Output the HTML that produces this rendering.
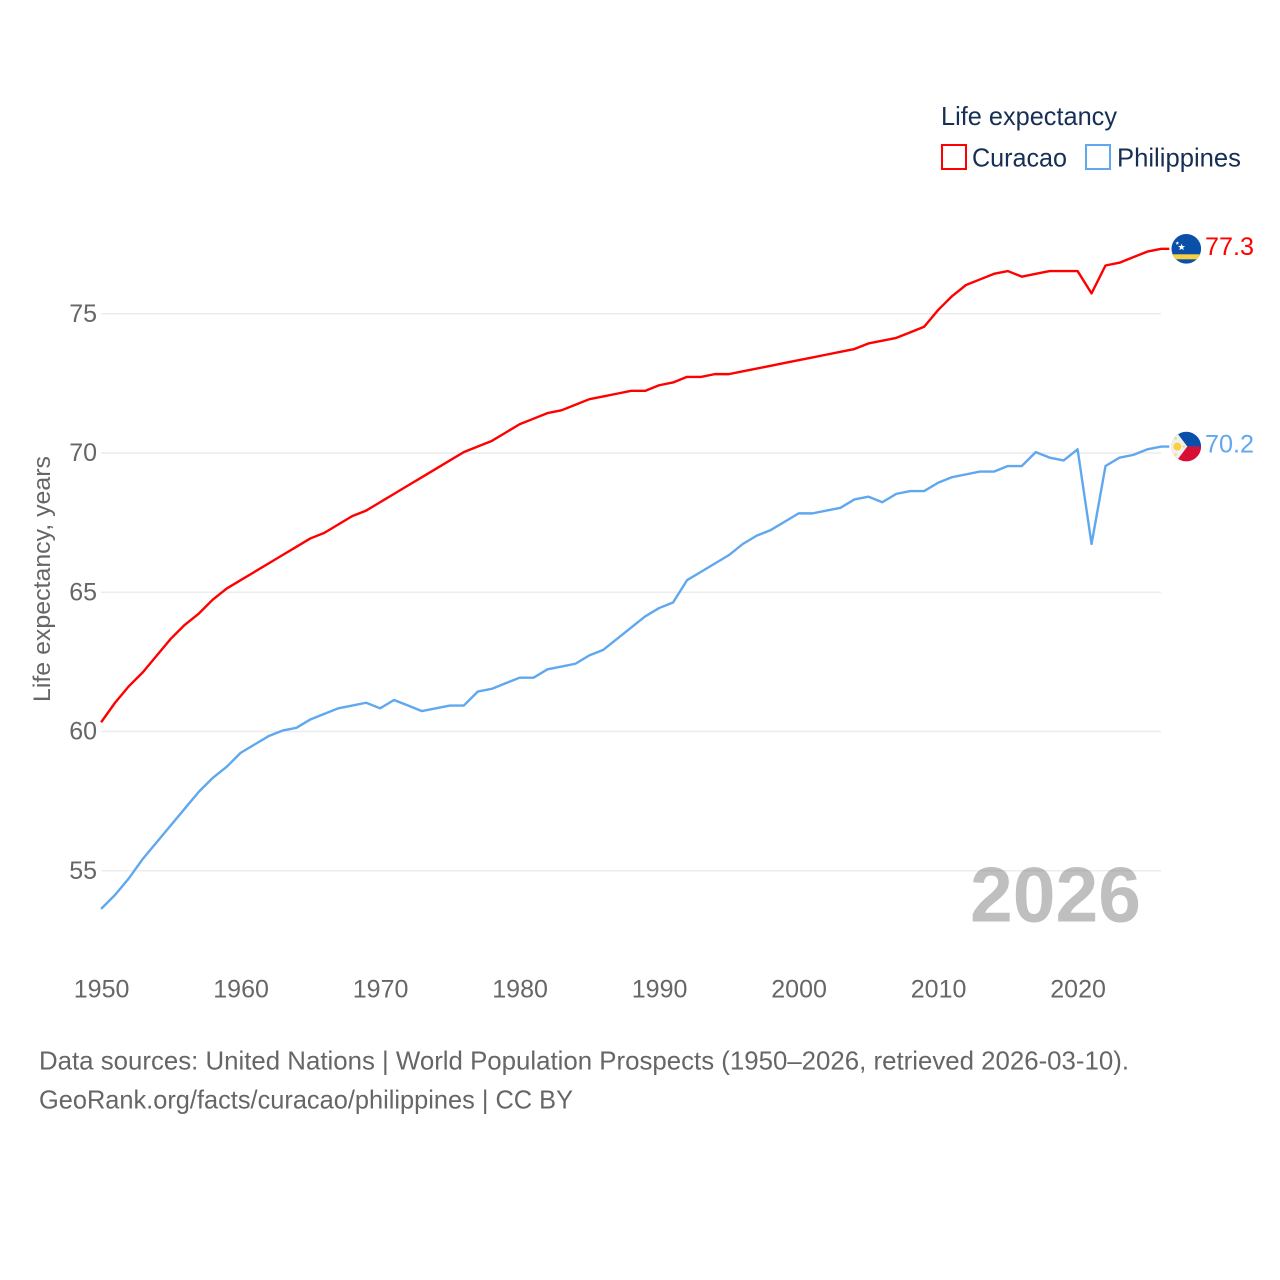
<!DOCTYPE html>
<html lang="en">
<head>
<meta charset="utf-8">
<title>Life expectancy: Curacao vs Philippines</title>
<style>
html,body{margin:0;padding:0;background:#fff;}
body{width:1280px;height:1280px;overflow:hidden;}
svg{display:block;font-family:"Liberation Sans",sans-serif;}
</style>
</head>
<body>
<svg id="chart" width="1280" height="1280" viewBox="0 0 1280 1280" xmlns="http://www.w3.org/2000/svg">
  <defs>
    <clipPath id="flag-clip"><circle cx="0" cy="0" r="14.8"></circle></clipPath>
  </defs>
  <g id="grid"></g>
  <g id="yticks"></g>
  <g id="xticks"></g>
  <text transform="translate(50,702) rotate(-90)" font-size="24" fill="#666" textLength="246" lengthAdjust="spacingAndGlyphs">Life expectancy, years</text>
  <text x="970" y="921.5" font-size="78" font-weight="bold" fill="#808080" fill-opacity="0.5" textLength="171" lengthAdjust="spacingAndGlyphs">2026</text>
  <g id="series"></g>

  <g id="flag-curacao">
    <g clip-path="url(#flag-clip)">
      <rect x="-15" y="-15" width="30" height="30" fill="#0a50a8"></rect>
      <rect x="-15" y="5.5" width="30" height="5" fill="#f9d03f"></rect>
      <polygon points="-4.7,-5.2 -3.8,-2.8 -1.2,-2.8 -3.2,-1.2 -2.5,1.3 -4.7,-0.1 -6.9,1.3 -6.2,-1.2 -8.2,-2.8 -5.6,-2.8" fill="#fff"></polygon>
      <polygon points="-9,-7.6 -8.5,-6.3 -7.1,-6.3 -8.2,-5.4 -7.8,-4 -9,-4.8 -10.2,-4 -9.8,-5.4 -10.9,-6.3 -9.5,-6.3" fill="#fff"></polygon>
    </g>
  </g>
  <g id="flag-philippines">
    <g clip-path="url(#flag-clip)">
      <rect x="-15" y="-15" width="30" height="15" fill="#0a50a8"></rect>
      <rect x="-15" y="0" width="30" height="15" fill="#d80f35"></rect>
      <polygon points="-15,-16 -11,-16 1,0 -11,16 -15,16" fill="#f1f1f1"></polygon>
      <circle cx="-9" cy="0" r="4" fill="#f9d03f"></circle>
      <circle cx="-10.5" cy="-8" r="1" fill="#f9d03f"></circle>
      <circle cx="-10.5" cy="8" r="1" fill="#f9d03f"></circle>
      <circle cx="-2.5" cy="0" r="1" fill="#f9d03f"></circle>
    </g>
  </g>
  <text id="label-curacao" x="1205" font-size="25" fill="#ff0000" textLength="49" lengthAdjust="spacingAndGlyphs"></text>
  <text id="label-philippines" x="1205" font-size="25" fill="#5fa8ef" textLength="49" lengthAdjust="spacingAndGlyphs"></text>

  <g>
    <text x="941" y="125" font-size="26" fill="#172f54" textLength="176" lengthAdjust="spacingAndGlyphs">Life expectancy</text>
    <g>
      <rect x="942" y="145" width="24" height="24" fill="#fff" stroke="#ff0000" stroke-width="2"></rect>
      <text x="972" y="166.5" font-size="26" fill="#172f54" textLength="95" lengthAdjust="spacingAndGlyphs">Curacao</text>
    </g>
    <g>
      <rect x="1086" y="145" width="24" height="24" fill="#fff" stroke="#5fa8ef" stroke-width="2"></rect>
      <text x="1117" y="166.5" font-size="26" fill="#172f54" textLength="124" lengthAdjust="spacingAndGlyphs">Philippines</text>
    </g>
  </g>

  <g>
    <text x="39" y="1069.5" font-size="26" fill="#666" textLength="1090" lengthAdjust="spacingAndGlyphs">Data sources: United Nations | World Population Prospects (1950–2026, retrieved 2026-03-10).</text>
    <text x="39" y="1108.5" font-size="26" fill="#666" textLength="534" lengthAdjust="spacingAndGlyphs">GeoRank.org/facts/curacao/philippines | CC BY</text>
  </g>
</svg>
<script>
const startYear = 1950;
const xTickLabels = [1950, 1960, 1970, 1980, 1990, 2000, 2010, 2020];
const yTickLabels = [55, 60, 65, 70, 75];
const curacaoValues = [
  60.3, 61.0, 61.6, 62.1, 62.7, 63.3, 63.8, 64.2, 64.7, 65.1,
  65.4, 65.7, 66.0, 66.3, 66.6, 66.9, 67.1, 67.4, 67.7, 67.9,
  68.2, 68.5, 68.8, 69.1, 69.4, 69.7, 70.0, 70.2, 70.4, 70.7,
  71.0, 71.2, 71.4, 71.5, 71.7, 71.9, 72.0, 72.1, 72.2, 72.2,
  72.4, 72.5, 72.7, 72.7, 72.8, 72.8, 72.9, 73.0, 73.1, 73.2,
  73.3, 73.4, 73.5, 73.6, 73.7, 73.9, 74.0, 74.1, 74.3, 74.5,
  75.1, 75.6, 76.0, 76.2, 76.4, 76.5, 76.3, 76.4, 76.5, 76.5,
  76.5, 75.7, 76.7, 76.8, 77.0, 77.2, 77.3
];
const philippinesValues = [
  53.6, 54.1, 54.7, 55.4, 56.0, 56.6, 57.2, 57.8, 58.3, 58.7,
  59.2, 59.5, 59.8, 60.0, 60.1, 60.4, 60.6, 60.8, 60.9, 61.0,
  60.8, 61.1, 60.9, 60.7, 60.8, 60.9, 60.9, 61.4, 61.5, 61.7,
  61.9, 61.9, 62.2, 62.3, 62.4, 62.7, 62.9, 63.3, 63.7, 64.1,
  64.4, 64.6, 65.4, 65.7, 66.0, 66.3, 66.7, 67.0, 67.2, 67.5,
  67.8, 67.8, 67.9, 68.0, 68.3, 68.4, 68.2, 68.5, 68.6, 68.6,
  68.9, 69.1, 69.2, 69.3, 69.3, 69.5, 69.5, 70.0, 69.8, 69.7,
  70.1, 66.7, 69.5, 69.8, 69.9, 70.1, 70.2
];

const NS = 'http://www.w3.org/2000/svg';
function xScale(year) { return 101.1 + (year - 1950) * 13.95; }
function yScale(v) { return 730.6 - (v - 60) * 27.85; }
function make(tag, parent, attrs, text) {
  const el = document.createElementNS(NS, tag);
  Object.keys(attrs).forEach(function (k) { el.setAttribute(k, attrs[k]); });
  if (text !== undefined) el.textContent = text;
  parent.appendChild(el);
  return el;
}

const gridG = document.getElementById('grid');
const yG = document.getElementById('yticks');
yTickLabels.forEach(function (t) {
  const line = make('line', gridG, { x1: 101, x2: 1161, y1: yScale(t) + 0.9, y2: yScale(t) + 0.9, stroke: '#ececec', 'stroke-width': 1.5 });
  
  
  const lab = make('text', yG, { x: 97, y: yScale(t) + 9, 'font-size': 25, fill: '#666', 'text-anchor': 'end' }, String(t));
  
  
});

const xG = document.getElementById('xticks');
xTickLabels.forEach(function (t) {
  const lab = make('text', xG, { x: xScale(t) + 0.5, y: 997.5, 'font-size': 25, fill: '#666', 'text-anchor': 'middle' }, String(t));
  
  
});

function drawSeries(values, color) {
  const pts = values.map(function (v, i) { return xScale(startYear + i).toFixed(2) + ',' + yScale(v).toFixed(2); });
  const lastX = xScale(startYear + values.length - 1);
  const lastY = yScale(values[values.length - 1]);
  pts.push((lastX + 8).toFixed(2) + ',' + lastY.toFixed(2));
  return make('polyline', document.getElementById('series'), { points: pts.join(' '), fill: 'none', stroke: color, 'stroke-width': 2.4, 'stroke-linejoin': 'round' });
}
const curacaoLine = drawSeries(curacaoValues, '#ff0000');


const philippinesLine = drawSeries(philippinesValues, '#5fa8ef');



function placeEnd(values, flagId, labelId) {
  const last = values[values.length - 1];
  const y = yScale(last);
  document.getElementById(flagId).setAttribute('transform', 'translate(1186.3,' + y.toFixed(2) + ')');
  const lab = document.getElementById(labelId);
  lab.setAttribute('y', (y + 6).toFixed(2));
  lab.textContent = last.toFixed(1);
}
placeEnd(curacaoValues, 'flag-curacao', 'label-curacao');
placeEnd(philippinesValues, 'flag-philippines', 'label-philippines');
</script>
</body>
</html>
